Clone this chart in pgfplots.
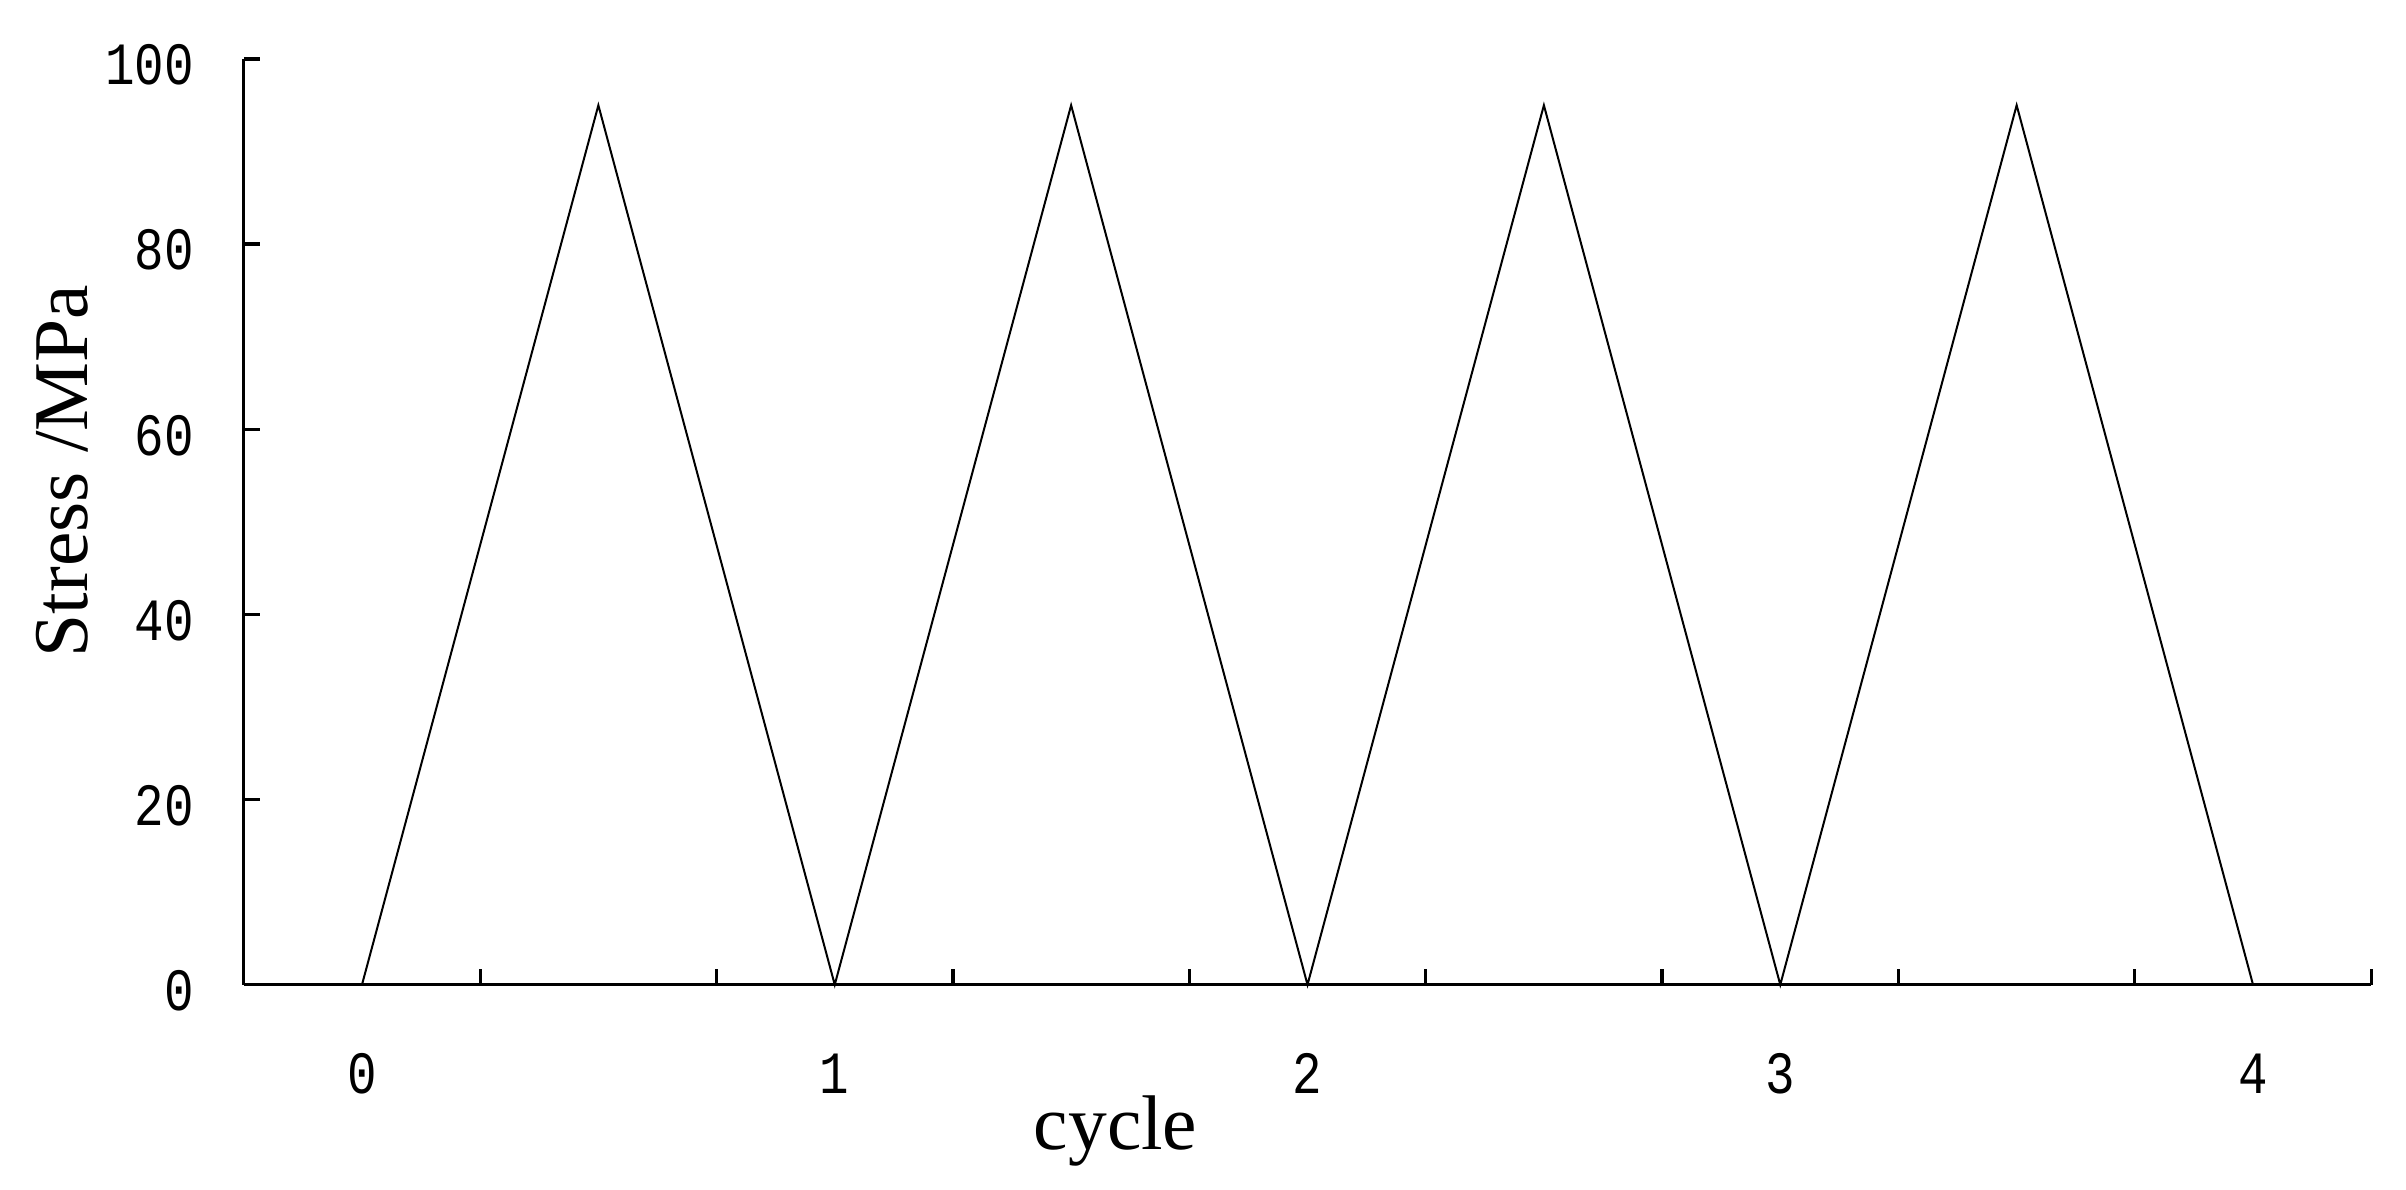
\documentclass[border=0pt]{standalone}
\usepackage{fontspec}
\usepackage{pgfplots}
\pgfplotsset{compat=1.18}
\newfontfamily\tickfont[FakeStretch=0.82]{Liberation Mono}
\newfontfamily\labfont{Liberation Serif}

\begin{document}
\begin{tikzpicture}
\begin{axis}[
  scale only axis,
  width=425.6pt, height=185.2pt,
  xmin=-0.25, xmax=4.25,
  ymin=0, ymax=100,
  axis lines*=left,
  axis line style={-, line width=0.65pt, black},
  tick align=inside,
  major tick length=3.2pt,
  tick style={line width=0.65pt, black},
  xtick={-0.25,0.25,...,4.25},
  xticklabels={},
  extra x ticks={0,1,2,3,4},
  extra x tick labels={0,1,2,3,4},
  extra x tick style={major tick length=0pt},
  ytick={0,20,...,100},
  /pgf/number format/assume math mode=true,
  tick label style={font=\tickfont\fontsize{12}{12}\selectfont},
  x tick label style={anchor=north, inner sep=0pt, yshift=-13.6pt},
  y tick label style={anchor=east, inner sep=0pt, xshift=-9.8pt, yshift=-1.2pt},
  xlabel={cycle},
  ylabel={Stress /MPa},
  label style={font=\labfont\fontsize{15.5}{16}\selectfont},
  xlabel style={at={(rel axis cs:0.4098,-0.1782)}, anchor=base},
  ylabel style={at={(rel axis cs:-0.0733,0.555)}, anchor=base},
  clip=false,
]
\addplot[black, line width=0.4pt] coordinates {
  (0,0)(0.5,95)(1,0)(1.5,95)(2,0)(2.5,95)(3,0)(3.5,95)(4,0)
};
\path (axis cs:-0.7657,-22.14) rectangle (axis cs:4.3236,106.37);
\end{axis}
\end{tikzpicture}
\end{document}
